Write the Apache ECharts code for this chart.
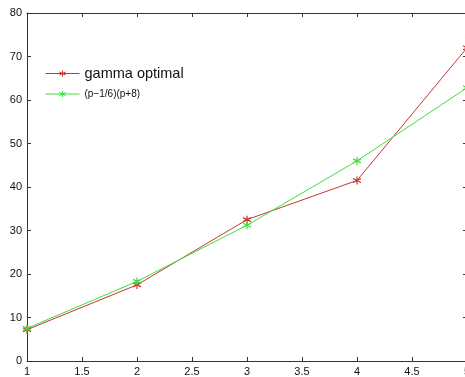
<!DOCTYPE html>
<html><head><meta charset="utf-8">
<script src="https://cdn.jsdelivr.net/npm/echarts@6/dist/echarts.min.js"></script>
<style>html,body{margin:0;padding:0;background:#fff}#c{width:465px;height:377px}</style>
</head><body><div id="c"></div>
<script>
var pValues = [1, 2, 3, 4, 5];
var gammaOptimal = [7.2, 17.5, 32.5, 41.5, 72];
var approxValues = [7.5, 18.3, 31.2, 46.0, 62.8];
var xTicks = [1, 1.5, 2, 2.5, 3, 3.5, 4, 4.5, 5];
var yTicks = [0, 10, 20, 30, 40, 50, 60, 70, 80];
var seriesNames = ['gamma optimal', '(p\u22121/6)(p+8)'];

var redC = '#c0392f', greenC = '#3be03b';
var star = 'path://M0,-5L0,5M-4.33,-2.5L4.33,2.5M-4.33,2.5L4.33,-2.5';
function pairs(ys){ return pValues.map(function(p,i){return [p, ys[i]];}); }
var font = 'Liberation Sans, Arial, sans-serif';
var axisCommon = {
  axisLine:{show:true, onZero:false, lineStyle:{color:'#333', width:1}},
  axisTick:{show:true, inside:true, length:4, lineStyle:{color:'#333'}},
  splitLine:{show:false}
};
var legendCommon = {left:45, padding:0, orient:'vertical', itemWidth:34, itemHeight:8,
  lineStyle:{width:1}, itemStyle:{borderWidth:1}};
var chart = echarts.init(document.getElementById('c'), null, {renderer:'canvas'});
chart.setOption({
  animation:false,
  grid:{left:27, top:13, width:440, height:348, containLabel:false, outerBoundsMode:'none'},
  legend:[
    Object.assign({top:66, data:[seriesNames[0]],
      textStyle:{fontSize:14.5, fontFamily:font, color:'#111'}}, legendCommon),
    Object.assign({top:89, data:[seriesNames[1]],
      textStyle:{fontSize:10, fontFamily:font, color:'#111'}}, legendCommon)
  ],
  xAxis:[
    Object.assign({type:'value', min:1, max:5, interval:0.5, position:'bottom',
      axisLabel:{color:'#111', fontSize:11, fontFamily:font, margin:5, showMaxLabel:true}}, axisCommon),
    Object.assign({type:'value', min:1, max:5, interval:0.5, position:'top',
      axisLabel:{show:false}}, axisCommon)
  ],
  yAxis:[
    Object.assign({type:'value', min:0, max:80, interval:10, position:'left',
      axisLabel:{color:'#111', fontSize:11, fontFamily:font, margin:5}}, axisCommon),
    Object.assign({type:'value', min:0, max:80, interval:10, position:'right',
      axisLabel:{show:false}}, axisCommon)
  ],
  series:[
    {name:seriesNames[0], type:'line', data:pairs(gammaOptimal), symbol:star, symbolSize:8,
     lineStyle:{color:redC, width:1}, itemStyle:{color:redC, borderColor:redC, borderWidth:1.2}},
    {name:seriesNames[1], type:'line', data:pairs(approxValues), symbol:star, symbolSize:8,
     lineStyle:{color:greenC, width:1}, itemStyle:{color:greenC, borderColor:greenC, borderWidth:1.2}}
  ]
});
</script></body></html>
